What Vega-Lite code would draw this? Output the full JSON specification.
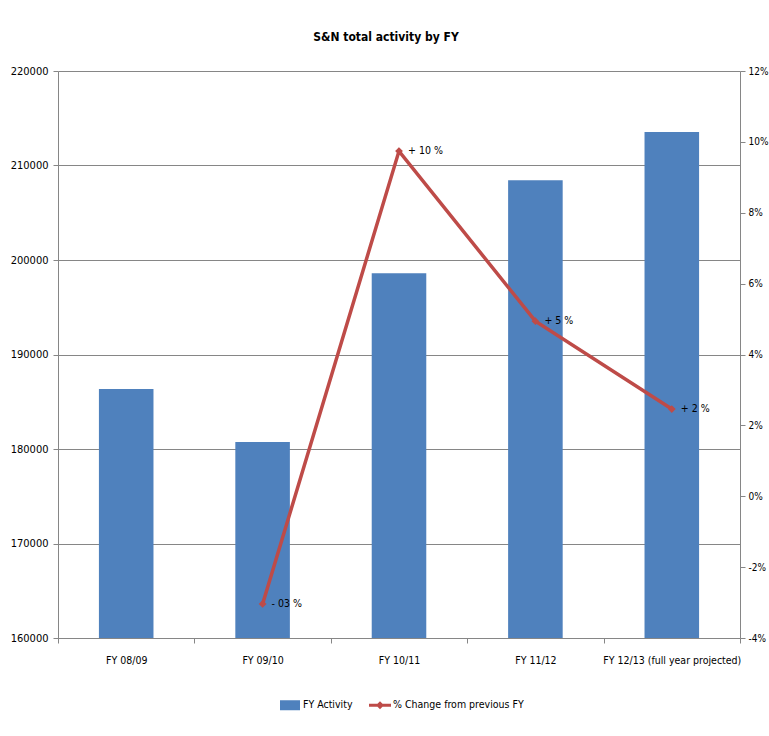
{
  "$schema": "https://vega.github.io/schema/vega-lite/v6.json",
  "width": 682,
  "height": 567,
  "autosize": {"type": "none"},
  "padding": {"left": 58, "top": 71, "right": 29, "bottom": 98},
  "background": "white",
  "config": {
    "font": "DejaVu Sans Condensed, Roboto",
    "view": {"stroke": null},
    "axis": {
      "domainColor": "#868686",
      "tickColor": "#868686",
      "gridColor": "#868686",
      "labelColor": "#000000",
      "labelFont": "DejaVu Sans Condensed, Roboto",
      "labelFontSize": 11,
      "tickSize": 5,
      "title": null
    }
  },
  "title": {
    "text": "S&N total activity by FY",
    "fontSize": 12,
    "font": "DejaVu Sans Condensed, Roboto",
    "fontWeight": "bold",
    "color": "#000000",
    "offset": 21,
    "dx": -13,
    "anchor": "middle"
  },
  "data": {
    "values": [
      {"fy": "FY 08/09", "activity": 186350, "change": null, "label": ""},
      {"fy": "FY 09/10", "activity": 180750, "change": -0.0304, "label": "- 03 %"},
      {"fy": "FY 10/11", "activity": 198600, "change": 0.0974, "label": "+ 10 %"},
      {"fy": "FY 11/12", "activity": 208450, "change": 0.0494, "label": "+ 5 %"},
      {"fy": "FY 12/13 (full year projected)", "activity": 213550, "change": 0.0246, "label": "+ 2 %"}
    ]
  },
  "encoding": {
    "x": {
      "field": "fy",
      "type": "nominal",
      "sort": null,
      "scale": {"paddingInner": 0, "paddingOuter": 0},
      "axis": {
        "labelAngle": 0,
        "labelFontSize": 10.5,
        "labelPadding": 12,
        "tickBand": "extent",
        "grid": false
      }
    }
  },
  "layer": [
    {
      "mark": {"type": "bar", "width": {"band": 0.4}},
      "encoding": {
        "y": {
          "field": "activity",
          "type": "quantitative",
          "scale": {"domain": [160000, 220000], "zero": false, "nice": false},
          "axis": {
            "values": [160000, 170000, 180000, 190000, 200000, 210000, 220000],
            "format": "d",
            "grid": true,
            "labelPadding": 5
          }
        },
        "y2": {"datum": 160000},
        "color": {
          "datum": "FY Activity",
          "type": "nominal",
          "scale": {
            "domain": ["FY Activity", "% Change from previous FY"],
            "range": ["#4F81BD", "#BE4B48"]
          },
          "legend": {
            "orient": "none",
            "legendX": 222,
            "legendY": 624,
            "direction": "horizontal",
            "title": null,
            "labelFont": "DejaVu Sans Condensed, Roboto",
            "labelFontSize": 10.5,
            "labelColor": "#000000",
            "symbolSize": 400,
            "columnPadding": 16,
            "labelOffset": 3,
            "encode": {
              "symbols": {
                "update": {
                  "shape": {"signal": "datum.value === 'FY Activity' ? 'M-1,-0.5H1V0.5H-1Z' : 'M-1.1,-0.15H1.1V0.15H-1.1Z M0,-0.4L0.4,0L0,0.4L-0.4,0Z'"},
                  "fill": {"signal": "datum.value === 'FY Activity' ? '#4F81BD' : '#BE4B48'"},
                  "stroke": {"value": "transparent"},
                  "strokeWidth": {"value": 0},
                  "opacity": {"value": 1}
                }
              }
            }
          }
        }
      }
    },
    {
      "transform": [{"filter": "datum.change != null"}],
      "encoding": {
        "y": {
          "field": "change",
          "type": "quantitative",
          "scale": {"domain": [-0.04, 0.12], "nice": false, "zero": false},
          "axis": {
            "orient": "right",
            "values": [-0.04, -0.02, 0, 0.02, 0.04, 0.06, 0.08, 0.1, 0.12],
            "format": ".0%",
            "labelExpr": "replace(datum.label, '\u2212', '-')",
            "labelFontSize": 10,
            "grid": false,
            "labelPadding": 3
          }
        }
      },
      "layer": [
        {
          "mark": {
            "type": "line",
            "strokeWidth": 3.5,
            "point": {"shape": "diamond", "size": 60, "filled": true}
          },
          "encoding": {
            "color": {"datum": "% Change from previous FY", "type": "nominal"}
          }
        },
        {
          "mark": {
            "type": "text",
            "align": "left",
            "baseline": "middle",
            "dx": 9,
            "fontSize": 10.5,
            "color": "#000000",
            "font": "DejaVu Sans Condensed, Roboto"
          },
          "encoding": {"text": {"field": "label"}}
        }
      ]
    }
  ],
  "resolve": {"scale": {"y": "independent"}}
}
